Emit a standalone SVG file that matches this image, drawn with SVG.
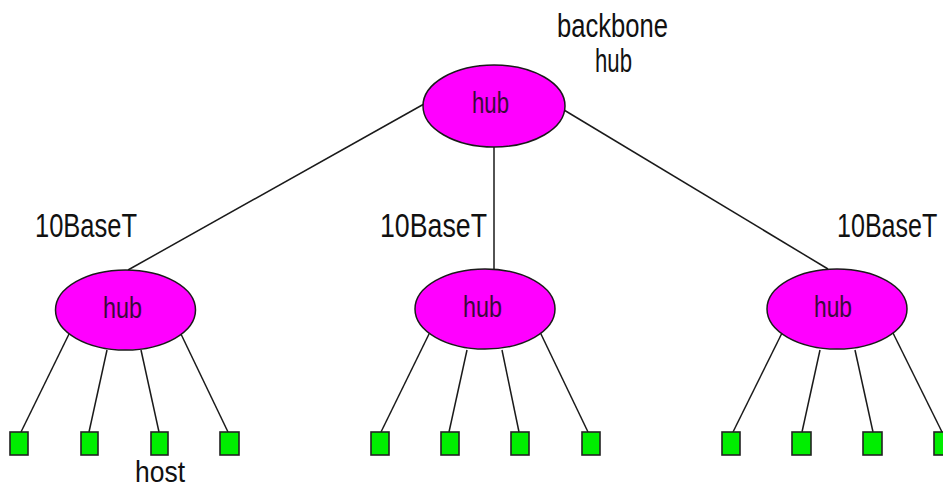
<svg xmlns="http://www.w3.org/2000/svg" width="943" height="487" viewBox="0 0 943 487">
  <style>
    .hub { fill: #ff00ff; stroke: #1a1a1a; stroke-width: 1.5; }
    .host { fill: #00ee00; stroke: #222; stroke-width: 1.6; }
    .wire { stroke: #1a1a1a; stroke-width: 1.5; fill: none; }
    .lbl { font-family: "Liberation Sans", Arial, sans-serif; font-size: 33px; fill: #111; }
    .sm { font-size: 30px; }
    .hlbl { font-family: "Liberation Sans", Arial, sans-serif; font-size: 29px; fill: #3a0a3a; }
  </style>
  <rect width="943" height="487" fill="#ffffff"/>

  <!-- connectors: backbone links and host drops -->
  <g id="connectors" class="wire">
    <line x1="424" y1="104" x2="128" y2="270"/>
    <line x1="494" y1="147" x2="494" y2="270"/>
    <line x1="564" y1="110" x2="828" y2="269"/>

    <line x1="70" y1="332" x2="21" y2="432"/>
    <line x1="107" y1="350" x2="89" y2="432"/>
    <line x1="141" y1="350" x2="159" y2="432"/>
    <line x1="180" y1="332" x2="228" y2="432"/>

    <line x1="430" y1="332" x2="381" y2="432"/>
    <line x1="467" y1="350" x2="449" y2="432"/>
    <line x1="502" y1="350" x2="519" y2="432"/>
    <line x1="540" y1="332" x2="588" y2="432"/>

    <line x1="782" y1="333" x2="733" y2="432"/>
    <line x1="820" y1="350" x2="802" y2="432"/>
    <line x1="855" y1="350" x2="873" y2="432"/>
    <line x1="893" y1="333" x2="942" y2="432"/>
  </g>

  <!-- backbone hub -->
  <g id="hub-backbone">
    <ellipse class="hub" cx="494" cy="106" rx="71" ry="41"/>
    <text class="hlbl" x="472" y="113" textLength="37" lengthAdjust="spacingAndGlyphs">hub</text>
  </g>
  <g id="label-backbone">
    <text class="lbl" x="557" y="37" textLength="111" lengthAdjust="spacingAndGlyphs">backbone</text>
    <text class="lbl" x="595" y="72" textLength="37" lengthAdjust="spacingAndGlyphs">hub</text>
  </g>

  <!-- department hubs -->
  <g id="hub-left">
    <ellipse class="hub" cx="125.5" cy="310" rx="70" ry="40"/>
    <text class="hlbl" x="103" y="318" textLength="39" lengthAdjust="spacingAndGlyphs">hub</text>
  </g>
  <g id="hub-middle">
    <ellipse class="hub" cx="485" cy="309" rx="70" ry="40"/>
    <text class="hlbl" x="463" y="317" textLength="39" lengthAdjust="spacingAndGlyphs">hub</text>
  </g>
  <g id="hub-right">
    <ellipse class="hub" cx="837" cy="309" rx="70" ry="40"/>
    <text class="hlbl" x="814" y="317" textLength="38" lengthAdjust="spacingAndGlyphs">hub</text>
  </g>

  <!-- segment labels -->
  <g id="labels-10baset">
    <text class="lbl" x="35" y="237" textLength="102" lengthAdjust="spacingAndGlyphs">10BaseT</text>
    <text class="lbl" x="380" y="237" textLength="107" lengthAdjust="spacingAndGlyphs">10BaseT</text>
    <text class="lbl" transform="translate(837 237) scale(0.76 1)">10BaseT</text>
  </g>

  <!-- hosts -->
  <g id="hosts-left">
    <rect class="host" x="10" y="432" width="18" height="23"/>
    <rect class="host" x="81" y="432" width="17" height="23"/>
    <rect class="host" x="151" y="432" width="17" height="23"/>
    <rect class="host" x="220" y="432" width="19" height="23"/>
  </g>
  <g id="hosts-middle">
    <rect class="host" x="371" y="432" width="18" height="23"/>
    <rect class="host" x="441" y="432" width="18" height="23"/>
    <rect class="host" x="511" y="432" width="18" height="23"/>
    <rect class="host" x="582" y="432" width="18" height="23"/>
  </g>
  <g id="hosts-right">
    <rect class="host" x="722" y="432" width="18" height="23"/>
    <rect class="host" x="792" y="432" width="19" height="23"/>
    <rect class="host" x="863" y="432" width="19" height="23"/>
    <rect class="host" x="934" y="432" width="18" height="23"/>
  </g>
  <g id="label-host">
    <text class="lbl sm" x="135" y="482" textLength="50" lengthAdjust="spacingAndGlyphs">host</text>
  </g>
</svg>
